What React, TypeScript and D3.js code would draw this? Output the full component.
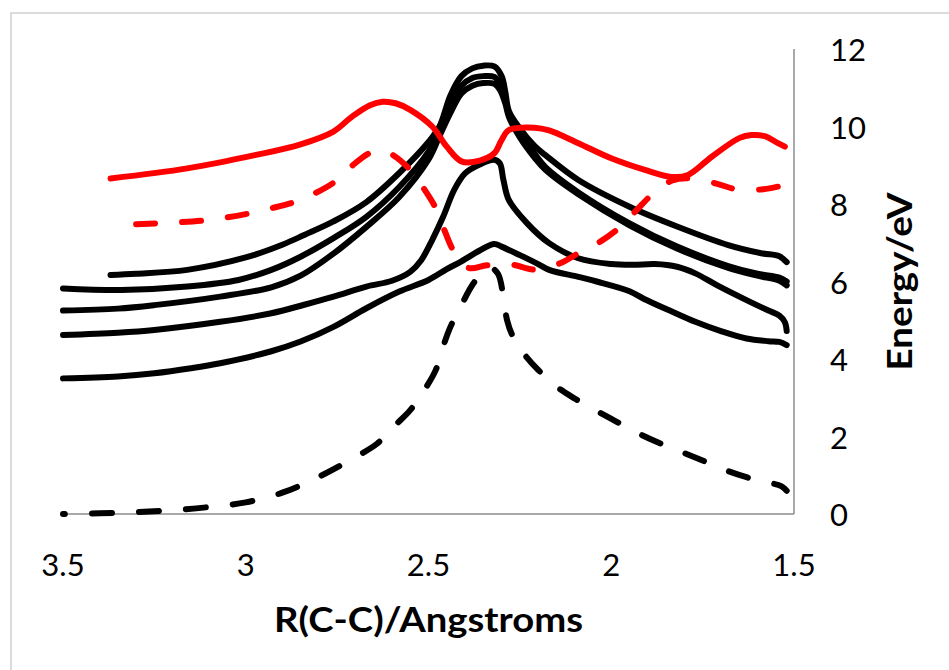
import React from "react";
import * as d3 from "d3";

// [R(C-C) in Angstrom, Energy in eV]
const groundState: [number, number][] = [
  [3.5, 0], [3.4, 0.02], [3.3, 0.05], [3.2, 0.1], [3.1, 0.18], [3.0, 0.3], [2.9, 0.55],
  [2.8, 0.96], [2.7, 1.47], [2.64, 1.82], [2.59, 2.3], [2.55, 2.68], [2.51, 3.22],
  [2.48, 3.72], [2.46, 4.32], [2.44, 4.83], [2.41, 5.39], [2.38, 5.91], [2.35, 6.25],
  [2.33, 6.35], [2.31, 6.2], [2.295, 5.6], [2.285, 5.0], [2.27, 4.6], [2.24, 4.15],
  [2.2, 3.72], [2.15, 3.29], [2.1, 2.98], [2.04, 2.66], [1.985, 2.38], [1.93, 2.1],
  [1.87, 1.84], [1.81, 1.61], [1.75, 1.38], [1.69, 1.14], [1.63, 0.95], [1.57, 0.81],
  [1.535, 0.72], [1.52, 0.6],
];

const state1: [number, number][] = [
  [3.5, 3.5], [3.35, 3.55], [3.25, 3.63], [3.15, 3.76], [3.07, 3.89], [2.93, 4.2],
  [2.85, 4.45], [2.76, 4.83], [2.67, 5.31], [2.58, 5.74], [2.5, 6.04], [2.45, 6.32],
  [2.41, 6.52], [2.36, 6.8], [2.32, 6.97], [2.3, 6.9], [2.25, 6.68], [2.2, 6.45],
  [2.17, 6.3], [2.09, 6.12], [2.04, 6.0], [1.95, 5.75], [1.91, 5.55], [1.84, 5.25],
  [1.77, 4.96], [1.7, 4.72], [1.63, 4.53], [1.57, 4.46], [1.54, 4.44], [1.52, 4.36],
];

const state2: [number, number][] = [
  [3.5, 4.62], [3.35, 4.68], [3.25, 4.75], [3.07, 4.96], [2.93, 5.18], [2.84, 5.4],
  [2.76, 5.61], [2.67, 5.87], [2.6, 6.02], [2.55, 6.25], [2.52, 6.55], [2.49, 7.07],
  [2.46, 7.67], [2.43, 8.36], [2.4, 8.79], [2.36, 9.02], [2.32, 9.14], [2.305, 9.05],
  [2.295, 8.62], [2.28, 8.1], [2.23, 7.5], [2.17, 6.99], [2.09, 6.6], [2.0, 6.45],
  [1.94, 6.43], [1.88, 6.45], [1.82, 6.38], [1.77, 6.21], [1.71, 5.9], [1.63, 5.52],
  [1.57, 5.25], [1.54, 5.12], [1.525, 4.95], [1.52, 4.72],
];

const state3: [number, number][] = [
  [3.5, 5.25], [3.35, 5.3], [3.25, 5.39], [3.07, 5.61], [2.93, 5.85], [2.85, 6.15],
  [2.76, 6.72], [2.67, 7.41], [2.58, 8.18], [2.5, 9.15], [2.47, 9.75], [2.44, 10.35],
  [2.41, 10.85], [2.38, 11.05], [2.35, 11.12], [2.32, 11.1], [2.305, 10.95],
  [2.29, 10.6], [2.28, 10.25], [2.25, 9.72], [2.21, 9.2], [2.18, 8.88], [2.09, 8.25],
  [1.95, 7.45], [1.82, 6.85], [1.68, 6.35], [1.6, 6.15], [1.54, 6.02], [1.52, 5.9],
];

const state4: [number, number][] = [
  [3.5, 5.82], [3.34, 5.78], [3.16, 5.87], [3.02, 6.04], [2.93, 6.3], [2.85, 6.64],
  [2.76, 7.12], [2.67, 7.67], [2.58, 8.44], [2.5, 9.35], [2.47, 9.9], [2.44, 10.55],
  [2.41, 11.05], [2.38, 11.25], [2.35, 11.3], [2.32, 11.28], [2.305, 11.1],
  [2.29, 10.7], [2.28, 10.3], [2.25, 9.8], [2.21, 9.3], [2.18, 8.95], [2.09, 8.3],
  [1.95, 7.5], [1.82, 6.9], [1.68, 6.4], [1.6, 6.2], [1.54, 6.1], [1.52, 6.0],
];

const state5: [number, number][] = [
  [3.37, 6.17], [3.3, 6.2], [3.16, 6.3], [3.0, 6.62], [2.9, 6.95], [2.84, 7.2],
  [2.76, 7.55], [2.67, 8.05], [2.58, 8.8], [2.5, 9.6], [2.47, 10.0], [2.44, 10.8],
  [2.41, 11.3], [2.38, 11.5], [2.35, 11.57], [2.32, 11.55], [2.3, 11.3], [2.29, 10.9],
  [2.28, 10.4], [2.25, 9.95], [2.21, 9.5], [2.18, 9.26], [2.09, 8.62], [1.95, 7.93],
  [1.82, 7.42], [1.68, 6.94], [1.59, 6.73], [1.54, 6.65], [1.52, 6.5],
];

const tripletSolid: [number, number][] = [
  [3.37, 8.66], [3.16, 8.92], [2.975, 9.26], [2.85, 9.54], [2.76, 9.87], [2.71, 10.25],
  [2.66, 10.55], [2.625, 10.64], [2.59, 10.6], [2.55, 10.43], [2.49, 10.0], [2.45, 9.48],
  [2.41, 9.1], [2.36, 9.12], [2.32, 9.31], [2.3, 9.65], [2.28, 9.91], [2.21, 9.97],
  [2.17, 9.9], [2.09, 9.57], [2.0, 9.18], [1.908, 8.88], [1.835, 8.7], [1.79, 8.75],
  [1.725, 9.22], [1.65, 9.7], [1.616, 9.78], [1.58, 9.75], [1.544, 9.57], [1.525, 9.48],
];

const tripletDashed: [number, number][] = [
  [3.3, 7.48], [3.2, 7.52], [3.1, 7.59], [3.0, 7.74], [2.93, 7.89], [2.87, 8.04],
  [2.81, 8.28], [2.76, 8.55], [2.71, 8.98], [2.66, 9.32], [2.63, 9.38], [2.6, 9.28],
  [2.55, 8.88], [2.51, 8.36], [2.48, 7.89], [2.455, 7.29], [2.43, 6.77], [2.39, 6.35],
  [2.34, 6.42], [2.27, 6.43], [2.21, 6.31], [2.14, 6.47], [2.09, 6.73], [2.03, 7.03],
  [1.98, 7.37], [1.935, 7.8], [1.89, 8.23], [1.835, 8.6], [1.78, 8.66], [1.71, 8.52],
  [1.657, 8.38], [1.584, 8.38], [1.525, 8.49],
];

const xTicks = [3.5, 3, 2.5, 2, 1.5];
const yTicks = [0, 2, 4, 6, 8, 10, 12];

export default function App() {
  const W = 949;
  const H = 670;
  const x = d3.scaleLinear().domain([3.5, 1.5]).range([63, 794]);
  const y = d3.scaleLinear().domain([0, 12]).range([514, 49]);
  const line = d3
    .line<[number, number]>()
    .x((d) => x(d[0]))
    .y((d) => y(d[1]))
    .curve(d3.curveCatmullRom.alpha(0.5));

  const blackSolid = [state1, state2, state3, state4, state5];
  const font = "Lato, 'Noto Sans', sans-serif";

  return (
    <svg
      width={W}
      height={H}
      style={{ position: "absolute", left: 0, top: 0, background: "#fff" }}
    >
      <rect x={0} y={0} width={W} height={H} fill="#fff" />
      <rect x={11} y={13} width={W + 20} height={H + 20} fill="none" stroke="#d0d0d0" strokeWidth={1.5} />
      {/* axes */}
      <line x1={x(3.5)} x2={x(1.5)} y1={y(0)} y2={y(0)} stroke="#8c8c8c" strokeWidth={1.5} />
      <line x1={x(1.5)} x2={x(1.5)} y1={y(0)} y2={y(12)} stroke="#8c8c8c" strokeWidth={1.5} />

      {/* curves */}
      {blackSolid.map((s, i) => (
        <path key={i} d={line(s) || ""} fill="none" stroke="#000" strokeWidth={6} strokeLinecap="round" strokeLinejoin="round" />
      ))}
      <path d={line(groundState) || ""} fill="none" stroke="#000" strokeWidth={6} strokeLinecap="round" strokeDasharray="20 27" strokeDashoffset={18} />
      <path d={line(tripletSolid) || ""} fill="none" stroke="#ff0000" strokeWidth={6} strokeLinecap="round" strokeLinejoin="round" />
      <path d={line(tripletDashed) || ""} fill="none" stroke="#ff0000" strokeWidth={6} strokeLinecap="round" strokeDasharray="19 27" />

      {/* tick labels */}
      {xTicks.map((t) => (
        <text key={t} x={x(t)} y={564} textAnchor="middle" dominantBaseline="central" fontFamily={font} fontSize={31} fill="#000">
          {String(t)}
        </text>
      ))}
      {yTicks.map((t) => (
        <text key={t} x={830} y={y(t)} textAnchor="start" dominantBaseline="central" fontFamily={font} fontSize={31} fill="#000">
          {String(t)}
        </text>
      ))}

      {/* axis titles */}
      <text x={(x(3.5) + x(1.5)) / 2} y={632} textAnchor="middle" fontFamily={font} fontWeight="bold" fontSize={34} textLength={309} lengthAdjust="spacingAndGlyphs" fill="#000">
        R(C-C)/Angstroms
      </text>
      <text transform={`translate(912, ${(y(0) + y(12)) / 2}) rotate(-90)`} textAnchor="middle" fontFamily={font} fontWeight="bold" fontSize={34} textLength={178} lengthAdjust="spacingAndGlyphs" fill="#000">
        Energy/eV
      </text>
    </svg>
  );
}
